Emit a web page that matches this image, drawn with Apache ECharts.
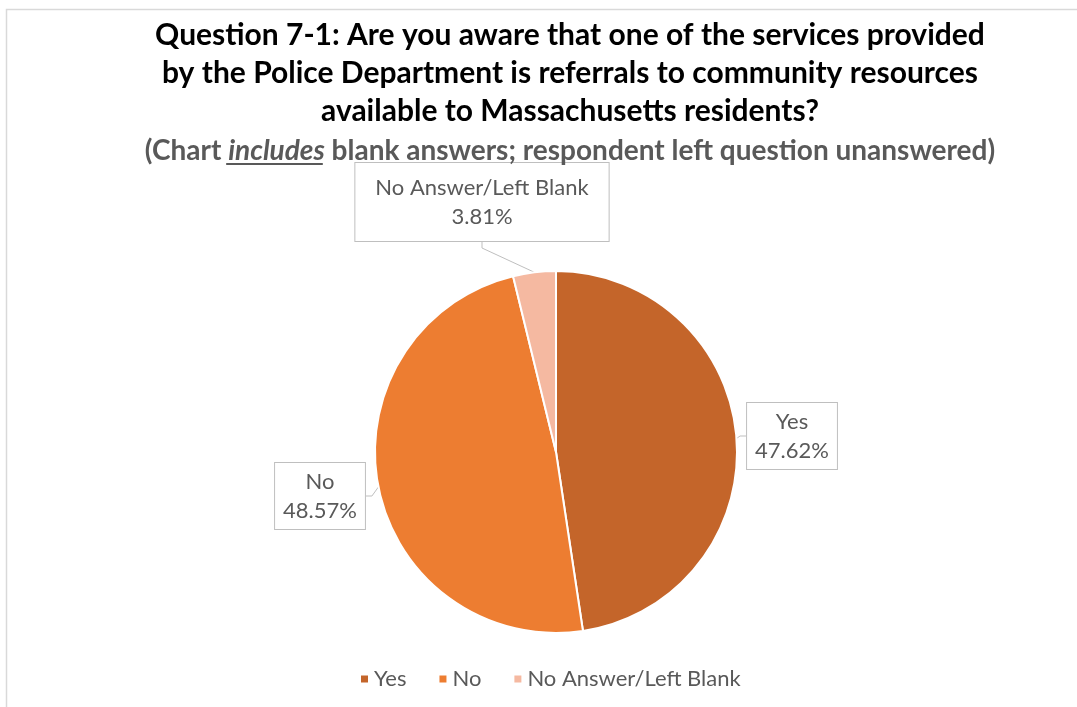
<!DOCTYPE html>
<html><head><meta charset="utf-8">
<script src="https://cdn.jsdelivr.net/npm/echarts@6/dist/echarts.min.js"></script>
<style>html,body{margin:0;padding:0;background:#fff}#c{width:1077px;height:707px}</style>
</head><body><div id="c"></div>
<script>
const categories = ['Yes', 'No', 'No Answer/Left Blank'];
const percentages = [47.62, 48.57, 3.81];
const colors = ['#C4652A', '#ED7D31', '#F5B9A1'];
const titleLines = [
  'Question 7-1: Are you aware that one of the services provided',
  'by the Police Department is referrals to community resources',
  'available to Massachusetts residents?'
];
const subPre = '(Chart ', subEm = 'includes', subPost = ' blank answers; respondent left question unanswered)';

const FONT = 'Lato';
const chart = echarts.init(document.getElementById('c'), null, {renderer: 'canvas'});

// label box centres (layout)
const labelPos = [[792, 436], [320, 496], [482, 202]];

const cv = document.createElement('canvas').getContext('2d');
const subSize = 28;
cv.font = 'normal bold ' + subSize + 'px ' + FONT;
const wPre = cv.measureText(subPre).width;
const wPost = cv.measureText(subPost).width;
cv.font = 'italic bold ' + subSize + 'px ' + FONT;
const wEm = cv.measureText(subEm).width;
const subCenter = 565;
const subLeft = subCenter - (wPre + wEm + wPost) / 2;

const option = {
  backgroundColor: '#fff',
  animation: false,
  title: [{
    text: titleLines.join('\n'),
    left: 565, top: 11, textAlign: 'center',
    textStyle: {fontFamily: FONT, fontWeight: 'bold', fontSize: 30, lineHeight: 38, color: '#000'}
  }, {
    text: '{a|' + subPre + '}{b|' + subEm + '}{a|' + subPost + '}',
    left: subCenter, top: 132, textAlign: 'center',
    textStyle: {
      rich: {
        a: {fontFamily: FONT, fontWeight: 'bold', fontSize: subSize, color: '#595959'},
        b: {fontFamily: FONT, fontWeight: 'bold', fontStyle: 'italic', fontSize: subSize, color: '#595959'}
      }
    }
  }],
  legend: {
    data: categories,
    left: 354, top: 663,
    icon: 'rect', itemWidth: 9, itemHeight: 9, itemGap: 31, itemTextGap: 8,
    textStyle: {fontFamily: FONT, fontSize: 22, color: '#595959'}
  },
  graphic: [{
    type: 'rect', shape: {x: 6.5, y: 9.5, width: 1100, height: 760},
    style: {fill: 'none', stroke: '#D9D9D9', lineWidth: 1.5}, silent: true, z: -10
  }, {
    type: 'rect', shape: {x: subLeft + wPre + 3, y: 163, width: wEm, height: 2},
    style: {fill: '#595959'}, silent: true
  }],
  series: [{
    type: 'pie',
    center: [556, 452],
    radius: 181,
    startAngle: 90,
    clockwise: true,
    percentPrecision: 2,
    itemStyle: {borderColor: '#fff', borderWidth: 2},
    label: {
      show: true, position: 'outside',
      formatter: function (p) { return p.name + '\n' + percentages[p.dataIndex].toFixed(2) + '%'; },
      fontFamily: FONT, fontSize: 22, lineHeight: 29, color: '#595959',
      backgroundColor: '#fff', borderColor: '#BFBFBF', borderWidth: 1,
      padding: [4, 8], align: 'center'
    },
    labelLine: {show: true, length: 6, length2: 6, lineStyle: {color: '#BFBFBF', width: 1}},
    labelLayout: function (p) {
      const c = labelPos[p.dataIndex];
      return {x: c[0], y: c[1], align: 'center', verticalAlign: 'middle'};
    },
    emphasis: {disabled: true},
    data: categories.map((n, i) => ({
      name: n, value: percentages[i], itemStyle: {color: colors[i]},
      label: i === 2 ? {padding: [10, 20]} : {}
    }))
  }]
};
chart.setOption(option);
</script></body></html>
